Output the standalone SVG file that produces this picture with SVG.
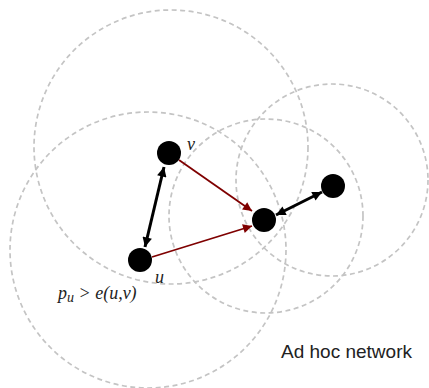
<svg xmlns="http://www.w3.org/2000/svg" width="429" height="388" viewBox="0 0 429 388">
<style>
.range{fill:none;stroke:#c4c4c4;stroke-width:1.7;stroke-dasharray:5 3.5}
.node{fill:#000}
.red{stroke:#7f0000;stroke-width:1.8;fill:none}
.blk{stroke:#000;stroke-width:3;fill:none}
.lab{font-family:"Liberation Serif",serif;font-style:italic;font-size:18px;fill:#222}
.title{font-family:"Liberation Sans",Arial,sans-serif;font-size:19px;fill:#222}
</style>
<defs>
<marker id="ar" viewBox="0 0 10 10" refX="10" refY="5" markerWidth="7" markerHeight="5" markerUnits="strokeWidth" orient="auto-start-reverse">
<path d="M0,0L10,5L0,10z" fill="#7f0000"/>
</marker>
<marker id="ab" viewBox="0 0 10 10" refX="10" refY="5" markerWidth="4.3" markerHeight="3.2" markerUnits="strokeWidth" orient="auto-start-reverse">
<path d="M0,0L10,5L0,10z" fill="#000"/>
</marker>
</defs>
<g id="ranges">
<circle class="range" cx="171" cy="147" r="137"/>
<circle class="range" cx="148" cy="250" r="138"/>
<circle class="range" cx="266" cy="216" r="97"/>
<circle class="range" cx="332" cy="180" r="96"/>
</g>
<g id="connectors">
<line class="red" x1="179" y1="160" x2="252" y2="211" marker-end="url(#ar)"/>
<line class="red" x1="152" y1="257" x2="252" y2="226" marker-end="url(#ar)"/>
<line class="blk" x1="164" y1="167" x2="145" y2="247" marker-start="url(#ab)" marker-end="url(#ab)"/>
<line class="blk" x1="322" y1="192" x2="276" y2="215" marker-start="url(#ab)" marker-end="url(#ab)"/>
</g>
<g id="node-v"><circle class="node" cx="169" cy="153" r="12"/><text class="lab" x="187" y="150">v</text></g>
<g id="node-u"><circle class="node" cx="140" cy="260" r="12"/><text class="lab" x="155" y="283">u</text></g>
<g id="node-c"><circle class="node" cx="264" cy="220" r="12"/></g>
<g id="node-r"><circle class="node" cx="333" cy="186" r="12"/></g>
<text class="lab" x="58" y="299" font-size="19">p<tspan font-size="14" dy="3">u</tspan><tspan dy="-3"> &gt; e(u,v)</tspan></text>
<text class="title" x="281" y="358">Ad hoc network</text>
</svg>
